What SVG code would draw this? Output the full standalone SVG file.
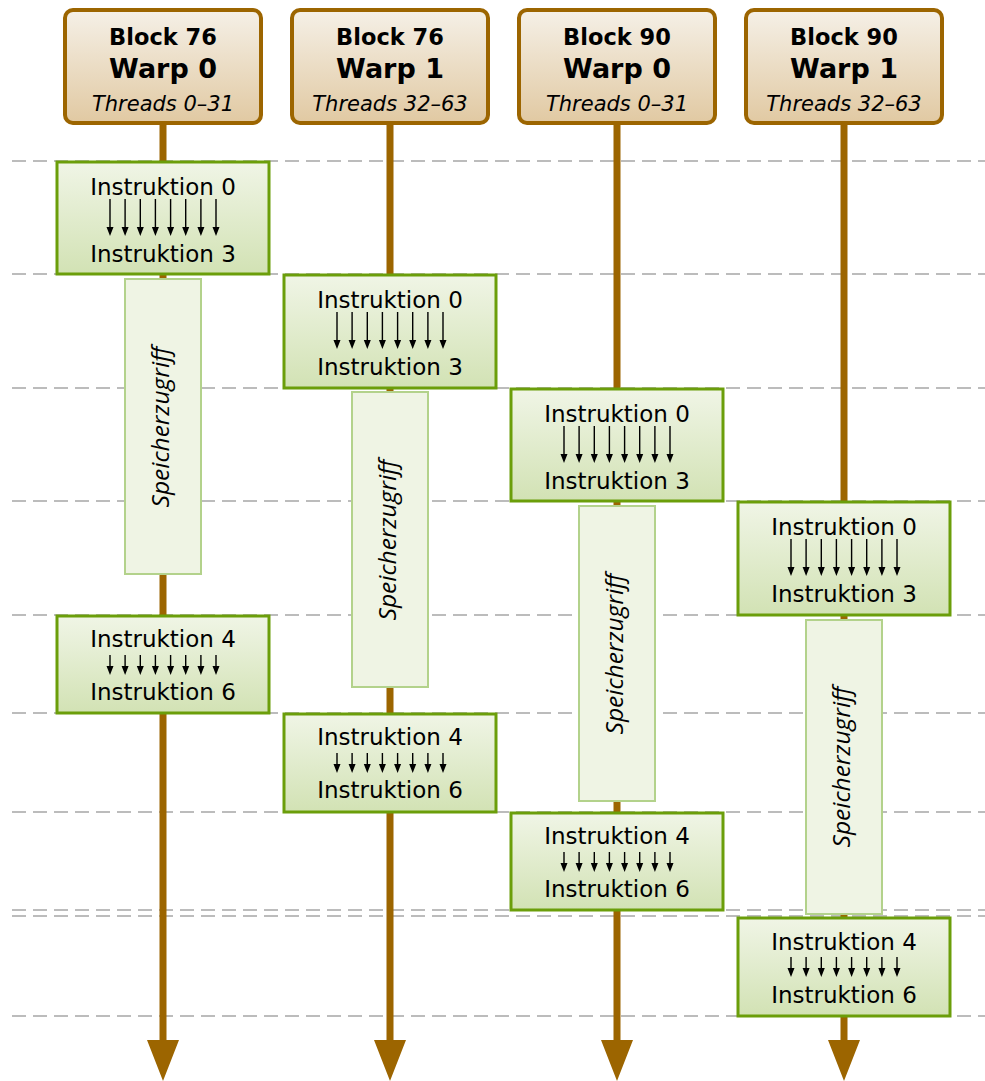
<svg xmlns="http://www.w3.org/2000/svg" xmlns:xlink="http://www.w3.org/1999/xlink" width="985" height="1081" viewBox="0 0 985 1081">
  <defs>
    <linearGradient id="gHead" x1="0" y1="0" x2="0" y2="1">
      <stop offset="0" stop-color="#f5f0e7"/>
      <stop offset="1" stop-color="#e1c9a2"/>
    </linearGradient>
    <linearGradient id="gInstr" x1="0" y1="0" x2="0" y2="1">
      <stop offset="0" stop-color="#f0f5e6"/>
      <stop offset="1" stop-color="#d2e2b4"/>
    </linearGradient>
    <!-- bundle of 8 thread arrows, long version (Instruktion 0..3) -->
    <g id="arrowsLong">
      <g stroke="#000" stroke-width="1.4">
        <path d="M-53 0V29M-37.9 0V29M-22.7 0V29M-7.6 0V29M7.6 0V29M22.7 0V29M37.9 0V29M53 0V29"/>
      </g>
      <g fill="#000">
        <path d="M-56.5 28h7l-3.5 9zM-41.4 28h7l-3.5 9zM-26.2 28h7l-3.5 9zM-11.1 28h7l-3.5 9zM4.1 28h7l-3.5 9zM19.2 28h7l-3.5 9zM34.4 28h7l-3.5 9zM49.5 28h7l-3.5 9z"/>
      </g>
    </g>
    <!-- bundle of 8 thread arrows, short version (Instruktion 4..6) -->
    <g id="arrowsShort">
      <g stroke="#000" stroke-width="1.4">
        <path d="M-53 0V12M-37.9 0V12M-22.7 0V12M-7.6 0V12M7.6 0V12M22.7 0V12M37.9 0V12M53 0V12"/>
      </g>
      <g fill="#000">
        <path d="M-56.5 11h7l-3.5 9zM-41.4 11h7l-3.5 9zM-26.2 11h7l-3.5 9zM-11.1 11h7l-3.5 9zM4.1 11h7l-3.5 9zM19.2 11h7l-3.5 9zM34.4 11h7l-3.5 9zM49.5 11h7l-3.5 9z"/>
      </g>
    </g>
  </defs>
  <style>
    .grid { stroke: #bcbcbc; stroke-width: 2; stroke-dasharray: 14 7; fill: none; }
    .time { stroke: #9c6500; stroke-width: 7; fill: none; }
    .tip { fill: #9c6500; }
    .head { fill: url(#gHead); stroke: #9c6500; stroke-width: 4; }
    .instr { fill: url(#gInstr); stroke: #6b9e0a; stroke-width: 3; }
    .mem { fill: #eff4e4; stroke: #b3d28b; stroke-width: 2; }
    text { font-family: "DejaVu Sans", "Liberation Sans", sans-serif; fill: #000; text-anchor: middle; }
    .t1 { font-size: 22.5px; font-weight: bold; }
    .t2 { font-size: 27px; font-weight: bold; }
    .t3 { font-size: 21px; font-style: italic; }
    .it { font-size: 23px; }
    .mt { font-family: "Open Sans", "Noto Sans", sans-serif; font-size: 24.5px; font-style: italic; }
  </style>

  <!-- time-step grid -->
  <g id="grid">
    <path class="grid" d="M12 161H985M12 274H985M12 388H985M12 501H985M12 615H985M12 713H985M12 812H985M12 910H985M12 916H985M12 1016H985"/>
  </g>

  <!-- timelines of the four warps -->
  <g id="connectors">
    <path class="time" d="M163 123V1042M390 123V1042M617 123V1042M844 123V1042"/>
    <path class="tip" d="M147 1040h32l-16 41zM374 1040h32l-16 41zM601 1040h32l-16 41zM828 1040h32l-16 41z"/>
  </g>

  <!-- warp headers -->
  <g id="head-b76-w0">
    <rect class="head" x="65" y="10" width="196" height="113" rx="8"/>
    <text class="t1" x="163" y="45">Block 76</text>
    <text class="t2" x="163" y="78">Warp 0</text>
    <text class="t3" x="163" y="111">Threads 0–31</text>
  </g>
  <g id="head-b76-w1">
    <rect class="head" x="292" y="10" width="196" height="113" rx="8"/>
    <text class="t1" x="390" y="45">Block 76</text>
    <text class="t2" x="390" y="78">Warp 1</text>
    <text class="t3" x="390" y="111">Threads 32–63</text>
  </g>
  <g id="head-b90-w0">
    <rect class="head" x="519" y="10" width="196" height="113" rx="8"/>
    <text class="t1" x="617" y="45">Block 90</text>
    <text class="t2" x="617" y="78">Warp 0</text>
    <text class="t3" x="617" y="111">Threads 0–31</text>
  </g>
  <g id="head-b90-w1">
    <rect class="head" x="746" y="10" width="196" height="113" rx="8"/>
    <text class="t1" x="844" y="45">Block 90</text>
    <text class="t2" x="844" y="78">Warp 1</text>
    <text class="t3" x="844" y="111">Threads 32–63</text>
  </g>

  <!-- warp 0 of block 76 -->
  <g id="w1-instr-a">
    <rect class="instr" x="57" y="162" width="212" height="112"/>
    <text class="it" x="163" y="195">Instruktion 0</text>
    <use xlink:href="#arrowsLong" x="163" y="199"/>
    <text class="it" x="163" y="262">Instruktion 3</text>
  </g>
  <g id="w1-mem">
    <rect class="mem" x="125" y="279" width="76" height="295"/>
    <text class="mt" transform="translate(169 427) rotate(-90)">Speicherzugriff</text>
  </g>
  <g id="w1-instr-b">
    <rect class="instr" x="57" y="616" width="212" height="97"/>
    <text class="it" x="163" y="647">Instruktion 4</text>
    <use xlink:href="#arrowsShort" x="163" y="655"/>
    <text class="it" x="163" y="700">Instruktion 6</text>
  </g>

  <!-- warp 1 of block 76 -->
  <g id="w2-instr-a">
    <rect class="instr" x="284" y="275" width="212" height="113"/>
    <text class="it" x="390" y="308">Instruktion 0</text>
    <use xlink:href="#arrowsLong" x="390" y="312"/>
    <text class="it" x="390" y="375">Instruktion 3</text>
  </g>
  <g id="w2-mem">
    <rect class="mem" x="352" y="392" width="76" height="295"/>
    <text class="mt" transform="translate(396 540) rotate(-90)">Speicherzugriff</text>
  </g>
  <g id="w2-instr-b">
    <rect class="instr" x="284" y="714" width="212" height="98"/>
    <text class="it" x="390" y="745">Instruktion 4</text>
    <use xlink:href="#arrowsShort" x="390" y="753"/>
    <text class="it" x="390" y="798">Instruktion 6</text>
  </g>

  <!-- warp 0 of block 90 -->
  <g id="w3-instr-a">
    <rect class="instr" x="511" y="389" width="212" height="112"/>
    <text class="it" x="617" y="422">Instruktion 0</text>
    <use xlink:href="#arrowsLong" x="617" y="426"/>
    <text class="it" x="617" y="489">Instruktion 3</text>
  </g>
  <g id="w3-mem">
    <rect class="mem" x="579" y="506" width="76" height="295"/>
    <text class="mt" transform="translate(623 654) rotate(-90)">Speicherzugriff</text>
  </g>
  <g id="w3-instr-b">
    <rect class="instr" x="511" y="813" width="212" height="97"/>
    <text class="it" x="617" y="844">Instruktion 4</text>
    <use xlink:href="#arrowsShort" x="617" y="852"/>
    <text class="it" x="617" y="897">Instruktion 6</text>
  </g>

  <!-- warp 1 of block 90 -->
  <g id="w4-instr-a">
    <rect class="instr" x="738" y="502" width="212" height="113"/>
    <text class="it" x="844" y="535">Instruktion 0</text>
    <use xlink:href="#arrowsLong" x="844" y="539"/>
    <text class="it" x="844" y="602">Instruktion 3</text>
  </g>
  <g id="w4-mem">
    <rect class="mem" x="806" y="620" width="76" height="294"/>
    <text class="mt" transform="translate(850 767) rotate(-90)">Speicherzugriff</text>
  </g>
  <g id="w4-instr-b">
    <rect class="instr" x="738" y="918" width="212" height="98"/>
    <text class="it" x="844" y="950">Instruktion 4</text>
    <use xlink:href="#arrowsShort" x="844" y="957"/>
    <text class="it" x="844" y="1003">Instruktion 6</text>
  </g>
</svg>
